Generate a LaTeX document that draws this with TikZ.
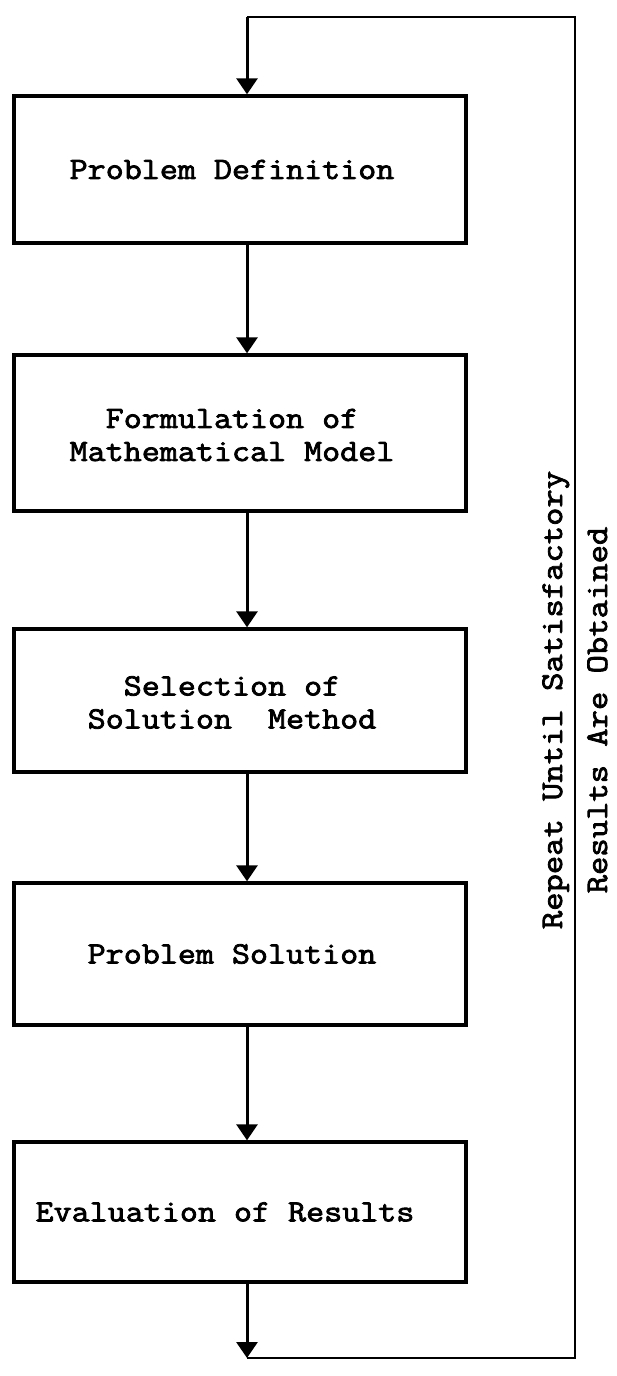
\documentclass[tikz,border=0pt]{standalone}
\usepackage{fontspec}
\newfontfamily\tw[FakeStretch=1.13,FakeBold=2.5]{Latin Modern Mono}
\usetikzlibrary{arrows.meta}
\begin{document}
\begin{tikzpicture}[x=1pt,y=-1pt,
  box/.style={draw, line width=3.4pt, minimum width=452pt, inner sep=0pt},
  txt/.style={font=\tw\fontsize{31}{33}\selectfont, align=center, inner sep=0pt},
  rottxt/.style={font=\tw\fontsize{31.5}{33}\selectfont, inner sep=0pt, rotate=90, anchor=base},
  arr/.style={line width=3pt, -{Triangle[length=16pt,width=21pt]}},
  loopline/.style={line width=2.6pt}
]
\useasboundingbox (0,0) rectangle (617,1376);
% boxes
\node[box, minimum height=147pt] (b1) at (240,169.5) {};
\node[box, minimum height=156pt] (b2) at (240,433) {};
\node[box, minimum height=143pt] (b3) at (240,700.5) {};
\node[box, minimum height=142pt] (b4) at (240,954) {};
\node[box, minimum height=140pt] (b5) at (240,1212) {};
% texts
\node[txt] (t1) at ([xshift=-8pt]b1.center) {Problem Definition};
\node[txt] (t2) at ([xshift=-8pt,yshift=-2pt]b2.center) {Formulation of\\Mathematical Model};
\node[txt] (t3) at ([xshift=-8pt,yshift=-2pt]b3.center) {Selection of\\Solution\ \ Method};
\node[txt] (t4) at ([xshift=-8pt]b4.center) {Problem Solution};
\node[txt] (t5) at ([xshift=-15pt]b5.center) {Evaluation of Results};
% connector column
\coordinate (ax) at (247,0);
\coordinate (topL) at (247,17);
\coordinate (topR) at (575,17);
\coordinate (botR) at (575,1358);
\coordinate (botL) at (247,1358);
\draw[arr] (b1.south -| ax) -- (b2.north -| ax);
\draw[arr] (b2.south -| ax) -- (b3.north -| ax);
\draw[arr] (b3.south -| ax) -- (b4.north -| ax);
\draw[arr] (b4.south -| ax) -- (b5.north -| ax);
\draw[arr] (b5.south -| ax) -- (botL);
\draw[loopline] (botL) -- (botR) -- (topR) -- (topL);
\draw[arr] (topL) -- (b1.north -| ax);
% loop label
\node[rottxt] (r1) at (562,700) {Repeat Until Satisfactory};
\node[rottxt] (r2) at (607,710) {Results Are Obtained};
\end{tikzpicture}
\end{document}
